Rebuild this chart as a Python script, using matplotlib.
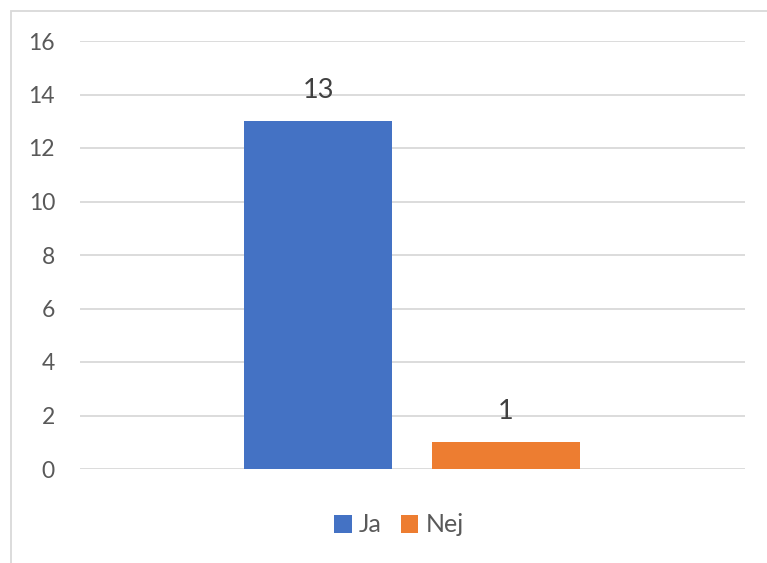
import matplotlib
matplotlib.use("Agg")
import matplotlib.pyplot as plt
from matplotlib.patches import Rectangle

# data
series = ["Ja", "Nej"]
values = [13, 1]
colors = ["#4472C4", "#ED7D31"]
yticks = [0, 2, 4, 6, 8, 10, 12, 14, 16]

plt.rcParams['font.family'] = ['Lato', 'DejaVu Sans']

fig = plt.figure(figsize=(7.67, 5.63), dpi=100)
ax = fig.add_axes([80/767, 1 - 469/563, 665/767, 428/563])

width = 0.2226
offsets = [-0.142, 0.1406]
for name, v, c, off in zip(series, values, colors, offsets):
  bars = ax.bar(off, v, width=width, color=c, label=name, zorder=3)
  ax.bar_label(bars, labels=[str(v)], padding=13, fontsize=19.5, color="#404040")

ax.set_xlim(-0.5, 0.5)
ax.set_ylim(0, 16)
ax.set_yticks(yticks)
ax.set_xticks([])
ax.tick_params(axis="y", length=0, pad=18, labelsize=16.5, labelcolor="#595959")
ax.grid(axis="y", color="#D9D9D9", linewidth=1.3, zorder=0)
for s in ax.spines.values():
  s.set_visible(False)

leg = fig.legend(loc="center", bbox_to_anchor=(399/767, 1 - 525/563), ncol=2, frameon=False,
                 fontsize=18, handlelength=0.7, handleheight=0.7, handletextpad=0.3,
                 columnspacing=0.75, labelcolor="#595959")

# outer chart border (only top/left visible in the reference)
fig.patches.append(Rectangle((11/767, -0.1), 1.2, 1 - 11/563 + 0.1, transform=fig.transFigure,
                             fill=False, edgecolor="#D9D9D9", linewidth=1.3))

fig.savefig("out.png", dpi=100)
